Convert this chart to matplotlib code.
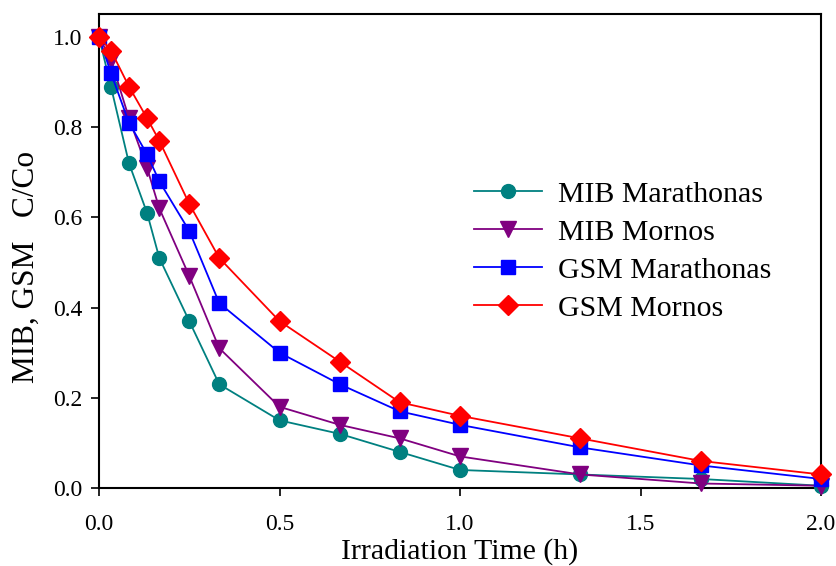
import matplotlib
matplotlib.use("Agg")
import matplotlib.pyplot as plt
from matplotlib import rcParams

rcParams['font.family'] = 'serif'
rcParams['font.serif'] = ['Liberation Serif', 'DejaVu Serif']
rcParams['mathtext.fontset'] = 'cm'

# irradiation time in hours
time_h = [0, 0.033, 0.083, 0.133, 0.167, 0.25, 0.333, 0.5, 0.667, 0.833, 1.0, 1.333, 1.667, 2.0]

mib_marathonas = [1.0, 0.89, 0.72, 0.61, 0.51, 0.37, 0.23, 0.15, 0.12, 0.08, 0.04, 0.03, 0.02, 0.005]
mib_mornos = [1.0, 0.95, 0.82, 0.71, 0.62, 0.47, 0.31, 0.18, 0.14, 0.11, 0.07, 0.03, 0.01, 0.005]
gsm_marathonas = [1.0, 0.92, 0.81, 0.74, 0.68, 0.57, 0.41, 0.30, 0.23, 0.17, 0.14, 0.09, 0.05, 0.02]
gsm_mornos = [1.0, 0.97, 0.89, 0.82, 0.77, 0.63, 0.51, 0.37, 0.28, 0.19, 0.16, 0.11, 0.06, 0.03]

series = [
    ('MIB Marathonas', mib_marathonas, '#008080', 'o', 10),
    ('MIB Mornos', mib_mornos, '#800080', 'v', 11),
    ('GSM Marathonas', gsm_marathonas, '#0000ff', 's', 10),
    ('GSM Mornos', gsm_mornos, '#ff0000', 'D', 10),
]

fig = plt.figure(figsize=(8.37, 5.66), dpi=100)
ax = fig.add_axes([0.1183, 0.1378, 0.8627, 0.8375])

for label, vals, color, marker, ms in series:
    ax.plot(time_h, vals, color=color, marker=marker, markersize=ms, lw=1.3,
            label=label, clip_on=False, zorder=3)

ax.set_xlim(0, 2.0)
ax.set_ylim(0, 1.051)
ax.set_xticks([0, 0.5, 1.0, 1.5, 2.0])
ax.set_xticklabels(['0.0', '0.5', '1.0', '1.5', '2.0'])
ax.set_yticks([0, 0.2, 0.4, 0.6, 0.8, 1.0])
ax.set_yticklabels(['0.0', '0.2', '0.4', '0.6', '0.8', '1.0'])
ax.tick_params(direction='out', length=6, width=1.2, labelsize=17, pad=6)
ax.tick_params(axis='x', pad=13)
for s in ax.spines.values():
    s.set_linewidth(1.5)

ax.set_xlabel('Irradiation Time (h)', fontsize=21.5, labelpad=2)
ax.set_ylabel('MIB, GSM   C/Co', fontsize=22.5)
ax.yaxis.set_label_coords(-0.08, 0.466)

ax.legend(loc='upper left', bbox_to_anchor=(0.519, 0.648), frameon=False,
          borderpad=0, borderaxespad=0,
          fontsize=21.5, handlelength=2.3, handletextpad=0.53, labelspacing=0.37)

fig.savefig('out.png', dpi=100)
